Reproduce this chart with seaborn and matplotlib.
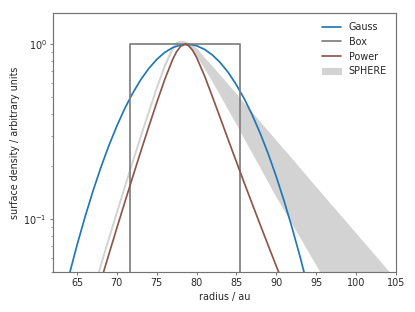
import matplotlib
matplotlib.use('Agg')
import matplotlib.pyplot as plt
import seaborn as sns
import pandas as pd

# radius / au and surface density (arbitrary units)
gauss_r = [63, 64, 65, 66, 67, 68, 69, 70, 71, 72, 73, 74, 75, 76, 77, 78, 78.8,
           79, 80, 81, 82, 83, 84, 85, 86, 87, 88, 89, 90, 91, 92, 93, 94]
gauss_v = [0.0312, 0.0477, 0.071, 0.1027, 0.1446, 0.198, 0.2634, 0.341, 0.4296, 0.526,
           0.6268, 0.726, 0.8183, 0.897, 0.956, 0.991, 1.0, 0.9994, 0.980, 0.935, 0.867,
           0.783, 0.687, 0.586, 0.487, 0.393, 0.3086, 0.236, 0.1752, 0.1265, 0.0889,
           0.0608, 0.0404]

box_r = [71.6, 71.6, 85.45, 85.45]
box_v = [0.01, 1.0, 1.0, 0.01]

power_r = [67.5, 68, 69, 70, 71, 72, 73, 74, 75, 76, 77, 77.5, 78, 78.55,
           79, 79.5, 80, 81, 82, 83, 84, 85, 86, 87, 88, 89, 90, 91]
power_v = [0.036, 0.0444, 0.063, 0.089, 0.125, 0.175, 0.2435, 0.337, 0.463, 0.627, 0.818,
           0.907, 0.9725, 1.0, 0.982, 0.924, 0.842, 0.660, 0.500, 0.376, 0.2825, 0.2127,
           0.1607, 0.1218, 0.0926, 0.0706, 0.054, 0.0414]

sphere_r = [67.5, 68, 69, 70, 71, 72, 73, 74, 75, 76, 77, 77.5, 78, 78.1, 78.6, 79, 80,
            81, 82, 83, 84, 85, 86, 88, 90, 92, 94, 96, 98, 100, 102, 104, 105]
sphere_lo = [0.0451, 0.0538, 0.0762, 0.1074, 0.1507, 0.2104, 0.2919, 0.4028, 0.5513, 0.7369,
             0.930, 1.0013, 1.03, 1.035, 1.01, 0.975, 0.87, 0.74, 0.62, 0.515, 0.427, 0.355,
             0.292, 0.200, 0.136, 0.0955, 0.0665, 0.0465, 0.0324, 0.0225, 0.0157, 0.011, 0.0092]
sphere_hi = [0.0465, 0.0555, 0.0785, 0.1106, 0.1552, 0.2167, 0.3007, 0.4149, 0.5678, 0.759,
             0.958, 1.02, 1.034, 1.035, 1.03, 1.005, 0.94, 0.83, 0.741, 0.656, 0.581, 0.514,
             0.455, 0.356, 0.279, 0.219, 0.171, 0.134, 0.105, 0.0824, 0.0646, 0.0506, 0.0448]

df_gauss = pd.DataFrame({'r': gauss_r, 'v': gauss_v})
df_box = pd.DataFrame({'r': box_r, 'v': box_v})
df_power = pd.DataFrame({'r': power_r, 'v': power_v})

fs = 10.6
sns.set_style('ticks')
plt.rcParams['font.family'] = ['DejaVu Sans']
plt.rcParams['font.size'] = fs

fig, ax = plt.subplots(figsize=(6.385, 4.8), dpi=65)
fig.subplots_adjust(left=0.128, right=0.9535, top=0.957, bottom=0.129)

lw = 1.9
ax.fill_between(sphere_r, sphere_lo, sphere_hi, color='lightgray', lw=1.3,
                zorder=1, label='SPHERE')
sns.lineplot(data=df_gauss, x='r', y='v', ax=ax, color='tab:blue', lw=lw,
             sort=False, estimator=None, label='Gauss', zorder=2)
sns.lineplot(data=df_box, x='r', y='v', ax=ax, color='tab:gray', lw=lw,
             sort=False, estimator=None, label='Box', zorder=2)
sns.lineplot(data=df_power, x='r', y='v', ax=ax, color='tab:brown', lw=lw,
             sort=False, estimator=None, label='Power', zorder=2)

ax.set_yscale('log')
ax.set_xlim(62, 105)
ax.set_ylim(0.05, 1.5)
ax.set_xlabel('radius / au', fontsize=fs)
ax.set_ylabel('surface density / arbitrary units', fontsize=fs)

for s in ax.spines.values():
    s.set_color('0.45')
    s.set_linewidth(1.3)
ax.tick_params(which='both', color='0.3', labelsize=fs)

h, l = ax.get_legend_handles_labels()
order = [l.index(k) for k in ['Gauss', 'Box', 'Power', 'SPHERE']]
ax.legend([h[i] for i in order], [l[i] for i in order], loc='upper right',
          frameon=False, fontsize=fs)

plt.savefig('out.png', dpi=65)
plt.close()
